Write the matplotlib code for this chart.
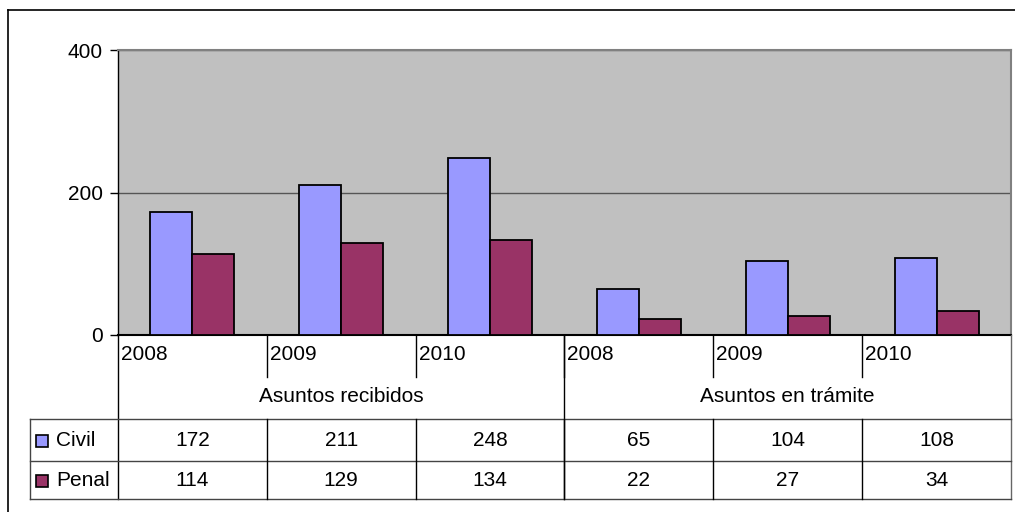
import matplotlib
matplotlib.use("Agg")
import matplotlib.pyplot as plt
from matplotlib.patches import Rectangle
from matplotlib.lines import Line2D

plt.rcParams['font.family'] = ['Liberation Sans', 'DejaVu Sans']

years = ["2008", "2009", "2010", "2008", "2009", "2010"]
groups = ["Asuntos recibidos", "Asuntos en trámite"]
series_names = ["Civil", "Penal"]
civil = [172, 211, 248, 65, 104, 108]
penal = [114, 129, 134, 22, 27, 34]
series_values = [civil, penal]
colors = ["#9999FF", "#993366"]
yticks = [0, 200, 400]

FS = 15
W, H = 1015, 512
fig = plt.figure(figsize=(W / 100, H / 100), dpi=100)

# pixel layout
L, R, T, B = 118, 1011, 50, 335
ax = fig.add_axes([L / W, 1 - B / H, (R - L) / W, (B - T) / H])
ax.set_facecolor("#C0C0C0")
n = len(years)
bw = 0.282
for s, (vals, col) in enumerate(zip(series_values, colors)):
    xs = [i + 0.5 + (s - 1) * bw for i in range(n)]
    ax.bar(xs, vals, width=bw, align='edge', color=col, edgecolor='black', linewidth=1.3, zorder=3)
ax.set_xlim(0, n)
ax.set_ylim(0, 400)
ax.set_yticks(yticks)
ax.set_yticklabels([str(v) for v in yticks], fontsize=FS)
ax.tick_params(axis='y', direction='out', length=6, width=1, pad=5, colors='black')
ax.set_xticks([])
ax.grid(axis='y', color='#555555', linewidth=1, zorder=1)
ax.set_axisbelow(True)
for side in ['top', 'right']:
    ax.spines[side].set_color('#808080')
    ax.spines[side].set_linewidth(1.5)
ax.spines['left'].set_color('black')
ax.spines['bottom'].set_color('black')
ax.spines['left'].set_linewidth(1)
ax.spines['bottom'].set_linewidth(1.5)

# overlay for table in pixel coordinates
ov = fig.add_axes([0, 0, 1, 1], zorder=5)
ov.set_xlim(0, W)
ov.set_ylim(H, 0)
ov.axis('off')
ov.patch.set_alpha(0)

def line(x0, y0, x1, y1, c='black', lw=1.0):
    ov.add_line(Line2D([x0, x1], [y0, y1], color=c, linewidth=lw))

cw = (R - L) / n
xb = [L + i * cw for i in range(n + 1)]

# outer frame
line(8, 10, W, 10, lw=1.2)
line(8, 10, 8, H, lw=1.2)

# category row dividers
for i in range(1, n):
    line(xb[i], B, xb[i], 377)
line(L, B, L, 499)
line(xb[3], B, xb[3], 499)
line(R, B, R, 499, c='#666666')

for i, y in enumerate(years):
    ov.text(xb[i] + 3, 355, y, fontsize=FS, ha='left', va='center')
for g, name in enumerate(groups):
    ov.text((xb[3 * g] + xb[3 * g + 3]) / 2, 396, name, fontsize=FS, ha='center', va='center')

# data table
rows_y = [419, 461, 499]
for y in rows_y:
    line(30, y, R, y, c='#444444')
line(30, 419, 30, 499, c='#444444')
for i in range(1, n):
    line(xb[i], 419, xb[i], 499)

for r, (nm, vals, col) in enumerate(zip(series_names, series_values, colors)):
    yc = (rows_y[r] + rows_y[r + 1]) / 2
    ov.add_patch(Rectangle((36, yc - 5), 12, 12, facecolor=col, edgecolor='black', linewidth=1.2))
    ov.text(56, yc + 1, nm, fontsize=FS, ha='left', va='center')
    for i, v in enumerate(vals):
        ov.text((xb[i] + xb[i + 1]) / 2, yc, str(v), fontsize=FS, ha='center', va='center')

fig.savefig("out.png", dpi=100)
